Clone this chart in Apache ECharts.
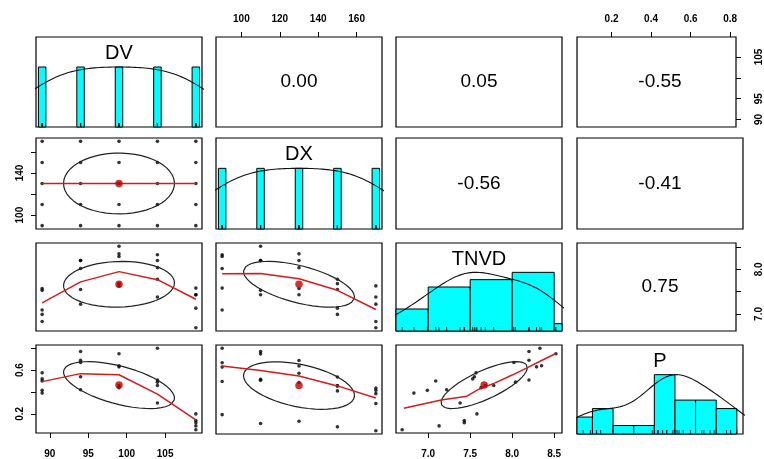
<!DOCTYPE html>
<html>
<head>
<meta charset="utf-8">
<script src="https://cdn.jsdelivr.net/npm/echarts@6.0.0/dist/echarts.min.js"></script>
<style>
  html, body { margin: 0; padding: 0; background: #fff; }
  #chart { width: 764px; height: 459px; }
</style>
</head>
<body>
<div id="chart"></div>
<script>
// ---- data (25 runs, 5x5 design of DV x DX) ----
var varNames = ['DV', 'DX', 'TNVD', 'P'];
var DV   = [89, 89, 89, 89, 89, 94, 94, 94, 94, 94, 99, 99, 99, 99, 99, 104, 104, 104, 104, 104, 109, 109, 109, 109, 109];
var DX   = [90, 110, 130, 150, 170, 90, 110, 130, 150, 170, 90, 110, 130, 150, 170, 90, 110, 130, 150, 170, 90, 110, 130, 150, 170];
var TNVD = [7.09, 7.53, 7.57, 6.99, 6.83, 8.02, 8.20, 8.20, 7.55, 7.22, 8.29, 8.52, 8.35, 7.68, 7.63,
            8.33, 8.20, 8.04, 7.78, 7.38, 7.58, 7.43, 7.43, 7.13, 6.69];
var P    = [0.50, 0.52, 0.575, 0.415, 0.39, 0.67, 0.77, 0.69, 0.54, 0.42, 0.63, 0.75, 0.64, 0.46, 0.44,
            0.80, 0.51, 0.49, 0.46, 0.30, 0.20, 0.12, 0.14, 0.09, 0.055];

// correlations printed in the upper panels
var corrPairs  = [[0, 1], [0, 2], [0, 3], [1, 2], [1, 3], [2, 3]];
var corrLabels = ['0.00', '0.05', '-0.55', '-0.56', '-0.41', '0.75'];

// histogram bins for the continuous variables
var tnvdBreaks = [6.5, 7.0, 7.5, 8.0, 8.5, 9.0];
var tnvdCounts = [3, 6, 7, 8, 1];
var pBreaks = [0, 0.1, 0.2, 0.3, 0.4, 0.5, 0.6, 0.7, 0.8];
var pCounts = [2, 3, 1, 1, 7, 4, 4, 3];

// red smoother lines (lowess)
var dvLevels = [89, 94, 99, 104, 109];
var dxLevels = [90, 110, 130, 150, 170];
var smoothDvDx   = [130, 130, 130, 130, 130];
var smoothDvTnvd = [7.25, 7.72, 7.95, 7.77, 7.33];
var smoothDxTnvd = [7.90, 7.91, 7.79, 7.53, 7.10];
var smoothDvP    = [0.495, 0.568, 0.558, 0.38, 0.145];
var smoothDxP    = [0.64, 0.60, 0.55, 0.46, 0.35];
var smoothTnvdX  = [6.71, 7.155, 7.46, 7.61, 7.79, 8.00, 8.175, 8.35, 8.52];
var smoothTnvdP  = [0.251, 0.327, 0.362, 0.428, 0.481, 0.555, 0.62, 0.688, 0.752];

// axis ticks and which ones carry a label
var dvTicks = [90, 95, 100, 105];
var dxTicks = [100, 120, 140, 160];
var tnvdTicks = [7.0, 7.5, 8.0, 8.5];
var pTicks = [0.2, 0.4, 0.6, 0.8];
var dxLeftLabels = [100, 140];
var pLeftLabels = [0.2, 0.6];
var dvRightLabels = [90, 95, 105];
var tnvdRightLabels = [7.0, 8.0];

// ---- layout ----
var colLeft = [36, 216, 396, 577];
var colWidth = 166;
var rowTop = [37, 138, 243, 345];
var rowHeight = [90, 91, 88, 89];
var FONT = '"Liberation Sans", Arial, sans-serif';
var HIST = '#00FFFF';
var RED = '#cc1f1f';

var vars = [DV, DX, TNVD, P];

function mean(a) { var s = 0; a.forEach(function (v) { s += v; }); return s / a.length; }
function sd(a) {
  var m = mean(a), s = 0;
  a.forEach(function (v) { s += (v - m) * (v - m); });
  return Math.sqrt(s / (a.length - 1));
}
function cor(a, b) {
  var ma = mean(a), mb = mean(b), s = 0;
  for (var k = 0; k < a.length; k++) s += (a[k] - ma) * (b[k] - mb);
  return s / (a.length - 1) / (sd(a) * sd(b));
}
function padRange(a) {
  var lo = Math.min.apply(null, a), hi = Math.max.apply(null, a), d = (hi - lo) * 0.04;
  return [lo - d, hi + d];
}
function q7(s, p) {
  var h = (s.length - 1) * p, lo = Math.floor(h);
  var hi = Math.min(lo + 1, s.length - 1);
  return s[lo] + (h - lo) * (s[hi] - s[lo]);
}
// gaussian kde, bw = nrd * 1.2, scaled to max 1 (as pairs.panels)
function density(a) {
  var s = a.slice().sort(function (x, y) { return x - y; });
  var h = (q7(s, 0.75) - q7(s, 0.25)) / 1.34;
  var bw = 1.06 * Math.min(sd(a), h) * Math.pow(a.length, -0.2) * 1.2;
  var lo = s[0] - 3 * bw, hi = s[s.length - 1] + 3 * bw, n = 300;
  var out = [], mx = 0;
  for (var k = 0; k < n; k++) {
    var x = lo + (hi - lo) * k / (n - 1), y = 0;
    a.forEach(function (v) { var z = (x - v) / bw; y += Math.exp(-0.5 * z * z); });
    out.push([x, y]);
    if (y > mx) mx = y;
  }
  out.forEach(function (p) { p[1] /= mx; });
  return out;
}
// correlation ellipse at 1 sd (psych draw.ellipse)
function ellipse(x, y) {
  var xm = mean(x), ym = mean(y), xs = sd(x), ys = sd(y), r = cor(x, y);
  if (Math.abs(r) <= 1e-9) r = 0;
  var th = r !== 0 ? Math.sign(r) / Math.SQRT2 : 1 / Math.SQRT2;
  var s1 = Math.sqrt(1 + r), s2 = Math.sqrt(1 - r), pts = [];
  for (var k = 0; k <= 51; k++) {
    var a = k * 2 * Math.PI / 51, c = Math.cos(a), s = Math.sin(a);
    pts.push([(c * s1 * th - s * s2 * th) * xs + xm, (c * s1 * th + s * s2 * th) * ys + ym]);
  }
  return pts;
}
function zip(a, b) { return a.map(function (v, k) { return [v, b[k]]; }); }

var ranges = vars.map(padRange);

var grids = [], xAxes = [], yAxes = [], series = [], graphics = [];

function hiddenAxis(gi, r) {
  return {
    type: 'value', gridIndex: gi, min: r[0], max: r[1],
    axisLine: { show: false }, axisTick: { show: false },
    axisLabel: { show: false }, splitLine: { show: false }
  };
}
function showAxis(ax, pos, ticks, labels, fmt, rotate, margin) {
  ax.position = pos;
  ax.axisTick = { show: true, inside: false, length: 5, customValues: ticks, lineStyle: { color: '#000', width: 1 } };
  ax.axisLabel = {
    show: true, customValues: labels, formatter: fmt, rotate: rotate || 0, margin: margin,
    color: '#000', fontSize: 10, fontWeight: 'bold', fontFamily: FONT
  };
}
var fmtInt = function (v) { return String(Math.round(v)); };
var fmt1 = function (v) { return v.toFixed(1); };

for (var i = 0; i < 4; i++) {
  for (var j = 0; j < 4; j++) {
    var g = i * 4 + j;
    grids.push({
      left: colLeft[j], top: rowTop[i], width: colWidth, height: rowHeight[i],
      show: true, borderColor: '#000', borderWidth: 1.2, backgroundColor: 'transparent'
    });
    var xa = hiddenAxis(g, ranges[j]);
    var ya = hiddenAxis(g, i === j ? [0, 1.5] : ranges[i]);
    xAxes.push(xa);
    yAxes.push(ya);

    if (i === 0 && j === 1) showAxis(xa, 'top', dxTicks, dxTicks, fmtInt, 0, 13);
    if (i === 0 && j === 3) showAxis(xa, 'top', pTicks, pTicks, fmt1, 0, 13);
    if (i === 3 && j === 0) showAxis(xa, 'bottom', dvTicks, dvTicks, fmtInt, 0, 16);
    if (i === 3 && j === 2) showAxis(xa, 'bottom', tnvdTicks, tnvdTicks, fmt1, 0, 16);
    if (i === 1 && j === 0) showAxis(ya, 'left', dxTicks, dxLeftLabels, fmtInt, 90, 11);
    if (i === 3 && j === 0) showAxis(ya, 'left', pTicks, pLeftLabels, fmt1, 90, 11);
    if (i === 0 && j === 3) showAxis(ya, 'right', dvTicks, dvRightLabels, fmtInt, 90, 18);
    if (i === 2 && j === 3) showAxis(ya, 'right', tnvdTicks, tnvdRightLabels, fmt1, 90, 18);

    var cx = colLeft[j] + colWidth / 2;

    if (i === j) {
      // histogram bars
      var bars = [];
      if (i < 2) {
        var lv = i === 0 ? dvLevels : dxLevels;
        var inter = (lv[1] - lv[0]) * (lv.length - 1) / 41;
        lv.forEach(function (v) {
          var c = vars[i].filter(function (w) { return w === v; }).length;
          bars.push([v - inter, v + inter, c / 5]);
        });
      } else {
        var br = i === 2 ? tnvdBreaks : pBreaks, ct = i === 2 ? tnvdCounts : pCounts;
        var mx = Math.max.apply(null, ct);
        ct.forEach(function (c, k) { bars.push([br[k], br[k + 1], c / mx]); });
      }
      series.push({
        type: 'custom', xAxisIndex: g, yAxisIndex: g, z: 1, silent: true,
        data: bars, encode: { x: [0, 1], y: 2 },
        renderItem: function (params, api) {
          var p0 = api.coord([api.value(0), api.value(2)]);
          var p1 = api.coord([api.value(1), 0]);
          var cs = params.coordSys;
          var rect = echarts.graphic.clipRectByRect(
            { x: p0[0], y: p0[1], width: p1[0] - p0[0], height: p1[1] - p0[1] },
            { x: cs.x, y: cs.y, width: cs.width, height: cs.height });
          return rect && { type: 'rect', shape: rect, style: { fill: HIST, stroke: '#000', lineWidth: 1 } };
        }
      });
      series.push({
        type: 'line', xAxisIndex: g, yAxisIndex: g, z: 3, silent: true,
        data: density(vars[i]), showSymbol: false, clip: true,
        lineStyle: { color: '#111', width: 1.1 }
      });
      // rug
      series.push({
        type: 'scatter', xAxisIndex: g, yAxisIndex: g, z: 3, silent: true,
        data: vars[i].map(function (v) { return [v, 0]; }),
        symbol: 'rect', symbolSize: [1, 4], symbolOffset: [0, -2],
        itemStyle: { color: '#000' }
      });
      graphics.push({
        type: 'text', x: cx, y: rowTop[i] + 16, z: 10,
        style: { text: varNames[i], fontSize: 20, fontFamily: FONT, fill: '#000', textAlign: 'center', textVerticalAlign: 'middle' }
      });
    } else if (i > j) {
      var xs = vars[j], ys = vars[i];
      series.push({
        type: 'scatter', xAxisIndex: g, yAxisIndex: g, z: 2, silent: true,
        data: zip(xs, ys), symbolSize: 3.6, itemStyle: { color: '#000' }
      });
      series.push({
        type: 'line', xAxisIndex: g, yAxisIndex: g, z: 3, silent: true,
        data: ellipse(xs, ys), showSymbol: false, lineStyle: { color: '#222', width: 1.2 }
      });
      var sm;
      if (i === 1 && j === 0) sm = zip(dvLevels, smoothDvDx);
      else if (i === 2 && j === 0) sm = zip(dvLevels, smoothDvTnvd);
      else if (i === 2 && j === 1) sm = zip(dxLevels, smoothDxTnvd);
      else if (i === 3 && j === 0) sm = zip(dvLevels, smoothDvP);
      else if (i === 3 && j === 1) sm = zip(dxLevels, smoothDxP);
      else sm = zip(smoothTnvdX, smoothTnvdP);
      series.push({
        type: 'line', xAxisIndex: g, yAxisIndex: g, z: 4, silent: true,
        data: sm, showSymbol: false, lineStyle: { color: RED, width: 1.5 }
      });
      series.push({
        type: 'scatter', xAxisIndex: g, yAxisIndex: g, z: 5, silent: true,
        data: [[mean(xs), mean(ys)]], symbolSize: 7.5, itemStyle: { color: '#c00000' }
      });
    }
  }
}

corrPairs.forEach(function (pr, k) {
  var i = pr[0], j = pr[1];
  graphics.push({
    type: 'text', x: colLeft[j] + colWidth / 2, y: rowTop[i] + rowHeight[i] / 2, z: 10,
    style: { text: corrLabels[k], fontSize: 19, fontFamily: FONT, fill: '#000', textAlign: 'center', textVerticalAlign: 'middle' }
  });
});

var chart = echarts.init(document.getElementById('chart'), null, { renderer: 'canvas' });
chart.setOption({
  backgroundColor: '#fff',
  animation: false,
  grid: grids,
  xAxis: xAxes,
  yAxis: yAxes,
  series: series,
  graphic: graphics
});
</script>
</body>
</html>
